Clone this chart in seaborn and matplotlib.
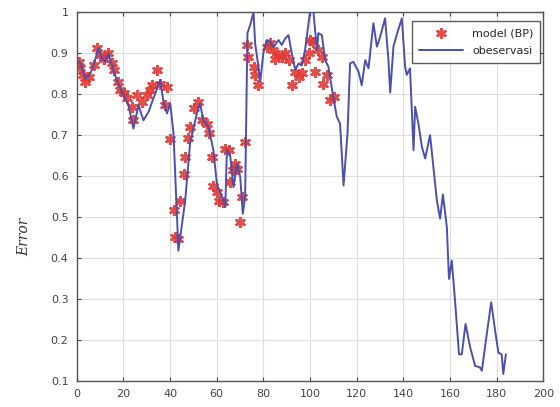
#!/usr/bin/env python3
# coding: utf-8

import seaborn as sns
import matplotlib.pyplot as plt
from matplotlib.ticker import FuncFormatter

# ------------------------------------------------
# Data
# ------------------------------------------------
obs_x = [1, 2, 3.6, 5.8, 7.2, 9.3, 10.8, 12.2, 13.6, 15.1, 17.2, 19.4, 22.2, 24.3,
         26.5, 28.6, 30.8, 32.9, 35.8, 37.2, 38.7, 40.1, 41.5, 43.6, 46.5, 48.6,
         51.5, 52.9, 54.3, 56.5, 58.6, 60.1, 62.9, 63.7, 64.4, 65.8, 67.2, 68.7,
         70.1, 71.2, 72.2, 73.2, 74.4, 75.8, 76.5, 77.9, 78.7, 80.1, 81.5, 82.9,
         84.3, 86.5, 87.9, 89.4, 90.8, 92.2, 93.7, 95.1, 96.5, 97.9, 100, 101.5,
         103, 103.6, 105.1, 106.5, 107.9, 110, 111.5, 112.9, 114.4, 116.1, 117.2,
         118.6, 120.8, 122.2, 123.7, 125.1, 127.2, 128.7, 130.1, 132.2, 133.6,
         134.4, 135.8, 137.2, 139.4, 140.8, 141.5, 142.9, 144.4, 145.1, 146.5,
         148, 149.4, 151.5, 152.9, 154.4, 155.8, 157, 158.7, 159.6, 160.8, 162.2,
         163.9, 165.1, 166.7, 168.7, 170.8, 172.9, 173.7, 175.8, 177.7, 179.4,
         180.8, 182.2, 182.9, 184]
obs_y = [0.88, 0.87, 0.838, 0.85, 0.87, 0.912, 0.887, 0.879, 0.90, 0.87, 0.834,
         0.806, 0.773, 0.716, 0.773, 0.736, 0.757, 0.79, 0.834, 0.781, 0.753,
         0.777, 0.704, 0.418, 0.54, 0.68, 0.753, 0.777, 0.736, 0.72, 0.663, 0.581,
         0.54, 0.524, 0.663, 0.65, 0.573, 0.63, 0.598, 0.508, 0.549, 0.949, 0.969,
         1.0, 0.924, 0.867, 0.83, 0.904, 0.932, 0.928, 0.915, 0.932, 0.92, 0.936,
         0.944, 0.90, 0.859, 0.875, 0.87, 0.908, 1.0, 1.0, 0.908, 0.949, 0.944,
         0.883, 0.867, 0.793, 0.745, 0.728, 0.577, 0.704, 0.875, 0.879, 0.855,
         0.822, 0.883, 0.863, 0.973, 0.916, 0.94, 0.985, 0.887, 0.804, 0.916,
         0.945, 0.985, 0.867, 0.847, 0.863, 0.663, 0.769, 0.728, 0.671, 0.643,
         0.70, 0.623, 0.541, 0.496, 0.555, 0.475, 0.349, 0.394, 0.296, 0.165,
         0.165, 0.239, 0.182, 0.137, 0.133, 0.125, 0.214, 0.292, 0.222, 0.169,
         0.165, 0.117, 0.165]

model_x = [1, 1.5, 2.9, 3.6, 5.1, 7.2, 8.7, 10.1, 11.5, 13.6, 15.1, 15.8, 17.9,
           18.6, 20.1, 21.5, 23.7, 24.3, 25.8, 27.9, 30.1, 31.5, 32.2, 34.4, 35.8,
           37.9, 38.7, 40.1, 41.5, 42.2, 43.3, 44.4, 45.8, 46.5, 47.9, 48.6, 50.1,
           52.2, 53.7, 55.8, 56.5, 57.9, 58.6, 60.1, 60.8, 62.9, 63.7, 65.1, 65.8,
           67.2, 67.9, 68.7, 70.1, 70.8, 72.2, 73, 73.6, 75.8, 76.5, 77.9, 81.5,
           82.9, 84.3, 85.1, 86.5, 87.9, 89.4, 90.8, 92.2, 93.7, 95.1, 96.5, 97.9,
           99.4, 100.1, 101.5, 102.2, 103.6, 105.1, 105.8, 107.2, 108.6, 110.1]
model_y = [0.879, 0.863, 0.847, 0.83, 0.842, 0.871, 0.912, 0.895, 0.887, 0.90,
           0.875, 0.859, 0.83, 0.81, 0.802, 0.79, 0.769, 0.736, 0.798, 0.781,
           0.798, 0.81, 0.822, 0.859, 0.826, 0.773, 0.818, 0.69, 0.518, 0.451,
           0.447, 0.54, 0.606, 0.647, 0.692, 0.72, 0.765, 0.781, 0.736, 0.728,
           0.704, 0.647, 0.577, 0.561, 0.54, 0.536, 0.667, 0.663, 0.585, 0.614,
           0.63, 0.618, 0.488, 0.549, 0.683, 0.92, 0.891, 0.867, 0.847, 0.822,
           0.916, 0.924, 0.908, 0.887, 0.896, 0.891, 0.90, 0.883, 0.822, 0.855,
           0.842, 0.851, 0.883, 0.90, 0.932, 0.928, 0.855, 0.908, 0.891, 0.826,
           0.847, 0.785, 0.793]

# ------------------------------------------------
# Plot
# ------------------------------------------------
sns.set_style("whitegrid")
plt.rcParams['font.family'] = ['DejaVu Sans']

fig = plt.figure(figsize=(5.6, 4.07), dpi=100)
ax = fig.add_axes([0.137, 0.064, 0.833, 0.906])

sns.scatterplot(x=model_x, y=model_y, ax=ax, marker=(6, 2, 0), s=38,
                color='#e23a34', edgecolor='#e23a34', linewidth=2.0,
                alpha=0.9, label='model (BP)', zorder=2)
sns.lineplot(x=obs_x, y=obs_y, ax=ax, estimator=None, sort=False,
             color='#4b4fb0', linewidth=1.4, label='obeservasi', zorder=3)

ax.set_xlim(0, 200)
ax.set_ylim(0.1, 1.0)
ax.set_xticks(range(0, 201, 20))
ax.set_yticks([0.1 * i for i in range(1, 11)])
ax.yaxis.set_major_formatter(FuncFormatter(lambda v, p: f"{v:g}" if v < 0.99 else "1"))

ax.grid(True, color='#dedede', linewidth=0.8)
for s in ax.spines.values():
    s.set_color('#555555')
    s.set_linewidth(1.0)
ax.tick_params(direction='in', length=3, labelsize=8, colors='#444444', pad=6,
               top=True, right=True, bottom=True, left=True)

ax.set_ylabel('Error', fontsize=10, family='DejaVu Serif', style='italic',
              color='#333333')
ax.yaxis.set_label_coords(-0.097, 0.39)

leg = ax.legend(loc='upper right', bbox_to_anchor=(0.993, 0.975), fontsize=8,
                frameon=True, fancybox=False, borderpad=0.6, labelspacing=0.7,
                handlelength=4.0, borderaxespad=0.0)
leg.get_frame().set_edgecolor('#333333')
leg.get_frame().set_linewidth(1.0)

fig.savefig('out.png', dpi=100)
